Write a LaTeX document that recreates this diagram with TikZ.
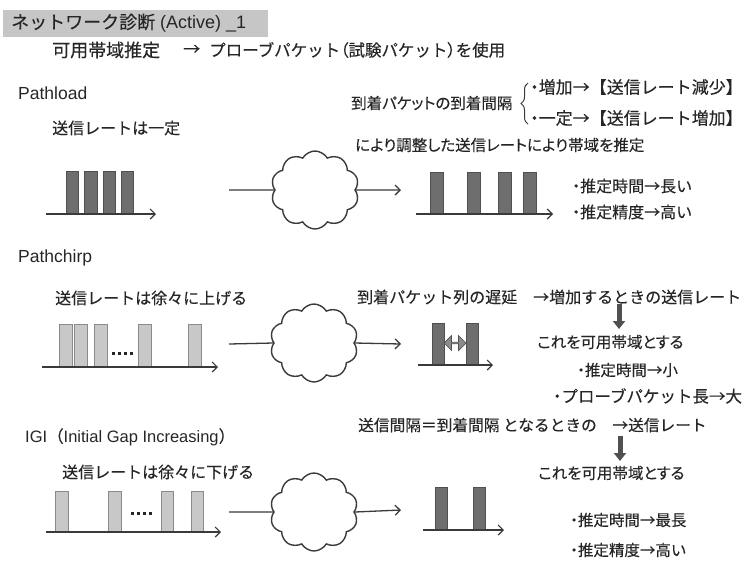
\documentclass[tikz,border=0pt]{standalone}
\usepackage{fontspec}
\setmainfont{Liberation Sans}
\newfontfamily\jp[FakeBold=0.25]{Noto Sans CJK JP}
\newfontfamily\jpp[RawFeature=+palt,FakeBold=0.25]{Noto Sans CJK JP}
\newcommand\pdot{{\jpp ・}}
\usetikzlibrary{shapes.symbols,shapes.arrows,arrows.meta,decorations.pathreplacing}
\definecolor{txt}{HTML}{262626}
\definecolor{linec}{HTML}{3A3A3A}
\definecolor{titlebg}{HTML}{C6C6C6}
\definecolor{bardark}{HTML}{6E6E6E}
\definecolor{bardarkline}{HTML}{505050}
\definecolor{barlight}{HTML}{C8C8C8}
\definecolor{barlightline}{HTML}{8A8A8A}
\newcommand\myfs[1]{\fontsize{#1}{#1}\selectfont}
\tikzset{
  lbl/.style={anchor=west, inner sep=0pt, text=txt},
  latl/.style={lbl, font=\myfs{17.5}},
  darkbar/.style={fill=bardark, draw=bardarkline, line width=0.8pt},
  lightbar/.style={fill=barlight, draw=barlightline, line width=0.8pt},
  axisln/.style={draw=linec, line width=1.2pt, -{Straight Barb[length=5pt,width=10pt]}},
  plainln/.style={draw=linec, line width=1.3pt},
  arrln/.style={draw=linec, line width=1.3pt, -{Straight Barb[length=5pt,width=10pt]}},
  cloudn/.style={cloud, cloud puffs=10, cloud puff arc=120, aspect=1.15, draw=linec, line width=1.4pt, fill=white, minimum width=88pt, minimum height=78pt, inner sep=0pt},
  downarr/.style={draw=bardarkline, line width=5pt, -{Triangle[width=12pt,length=8pt]}},
  dblarr/.style={double arrow, double arrow head extend=3.5pt, draw=bardarkline, fill=bardark!80, line width=0.7pt, minimum width=15pt, minimum height=22pt, inner sep=0pt},
}
\begin{document}
\begin{tikzpicture}[x=1pt,y=-1pt]
\useasboundingbox (0,0) rectangle (751,566);
% title
\node[fill=titlebg, anchor=north west, minimum width=265pt, minimum height=27pt, inner sep=0pt] (titlebox) at (3,10) {};
\node[lbl, font=\myfs{18}] (title) at (11,23) {{\jp ネットワーク診断} (Active) \_1};
\node[lbl, font=\jp\myfs{18}] (sub1) at (52,50) {可用帯域推定};
\node[lbl, font=\jp\myfs{17}] (sub2) at (183,50) {→};
\node[lbl, font=\jp\myfs{16.5}] (sub3) at (209,50) {プローブパケット{\jpp（}試験パケット{\jpp）}を使用};

% ---------- Pathload ----------
\node[latl] (pl) at (18,93) {Pathload};
\node[lbl, font=\jp\myfs{16}] (pl1) at (52,128) {送信レートは一定};
\draw[darkbar] (66,171) rectangle (78,214);
\draw[darkbar] (84,171) rectangle (97,214);
\draw[darkbar] (103,171) rectangle (115,214);
\draw[darkbar] (121,171) rectangle (133,214);
\coordinate (a1s) at (46,214); \coordinate (a1e) at (156,214);
\draw[axisln] (a1s) -- (a1e);
\node[cloudn] (c1) at (315,190) {};
\coordinate (l1) at (229,190); \coordinate (r1) at (401,190);
\draw[plainln] (l1) -- (c1.west);
\draw[arrln] (c1.east) -- (r1);
\draw[darkbar] (430,172) rectangle (443,214);
\draw[darkbar] (467,172) rectangle (480,214);
\draw[darkbar] (498,172) rectangle (511,214);
\draw[darkbar] (523,172) rectangle (536,214);
\coordinate (b1s) at (416,214); \coordinate (b1e) at (553,214);
\draw[axisln] (b1s) -- (b1e);
\node[lbl, font=\jpp\myfs{15.5}] (pr1) at (351,103) {到着パケットの到着間隔};
\draw[decorate, decoration={brace, amplitude=7pt}, draw=linec, line width=1pt] (528,124) -- (528,83);
\node[lbl, font=\jp\myfs{17}] (pr2) at (530,87) {\pdot 増加→【送信レート減少】};
\node[lbl, font=\jp\myfs{17}] (pr3) at (530,118) {\pdot 一定→【送信レート増加】};
\node[lbl, font=\jpp\myfs{15.5}] (pr4) at (355,145) {により調整した送信レートにより帯域を推定};
\node[lbl, font=\jp\myfs{16}] (pr5) at (572,186) {\pdot 推定時間→長い};
\node[lbl, font=\jp\myfs{16}] (pr6) at (572,212) {\pdot 推定精度→高い};

% ---------- Pathchirp ----------
\node[latl] (pc) at (18,258) {Pathchirp};
\node[lbl, font=\jp\myfs{16}] (pc1) at (55,298) {送信レートは徐々に上げる};
\draw[lightbar] (59,324) rectangle (72,367);
\draw[lightbar] (74,324) rectangle (87,367);
\draw[lightbar] (94,324) rectangle (107,367);
\draw[lightbar] (138,324) rectangle (151,367);
\draw[lightbar] (188,324) rectangle (201,367);
\foreach \i in {0,1,2,3} \fill[txt] (111.5+\i*6,351.5) rectangle ++(3,3);
\coordinate (a2s) at (42,367); \coordinate (a2e) at (218,367);
\draw[axisln] (a2s) -- (a2e);
\node[cloudn] (c2) at (314,343) {};
\coordinate (l2) at (229,344); \coordinate (r2) at (401,344);
\draw[plainln] (l2) -- (c2.west);
\draw[arrln] (c2.east) -- (r2);
\draw[darkbar] (432,323) rectangle (444,365);
\draw[darkbar] (466,323) rectangle (478,365);
\node[dblarr] (gap) at (455,343) {};
\coordinate (b2s) at (418,365); \coordinate (b2e) at (493,365);
\draw[axisln] (b2s) -- (b2e);
\node[lbl, font=\jp\myfs{16}] (cr1) at (357,297) {到着パケット列の遅延　→増加するときの送信レート};
\coordinate (d1s) at (619,304); \coordinate (d1e) at (619,329);
\draw[downarr] (d1s) -- (d1e);
\node[lbl, font=\jpp\myfs{15.5}] (cr2) at (537,342) {これを可用帯域とする};
\node[lbl, font=\jp\myfs{15.5}] (cr3) at (577,370) {\pdot 推定時間→小};
\node[lbl, font=\jp\myfs{16.5}] (cr4) at (553,396) {\pdot プローブパケット長→大};

% ---------- IGI ----------
\node[latl, font=\myfs{16.5}] (ig) at (25,437) {IGI{\jp（}Initial Gap Increasing{\jp）}};
\node[lbl, font=\jp\myfs{16}] (ig1) at (62,472) {送信レートは徐々に下げる};
\draw[lightbar] (55,491) rectangle (68,532);
\draw[lightbar] (108,491) rectangle (121,532);
\draw[lightbar] (161,491) rectangle (173,532);
\draw[lightbar] (191,491) rectangle (203,532);
\foreach \i in {0,1,2,3} \fill[txt] (130.5+\i*6,511.5) rectangle ++(3,3);
\coordinate (a3s) at (46,532); \coordinate (a3e) at (221,532);
\draw[axisln] (a3s) -- (a3e);
\node[cloudn] (c3) at (314,512) {};
\coordinate (l3) at (229,512); \coordinate (r3) at (401,510);
\draw[plainln] (l3) -- (c3.west);
\draw[arrln] (c3.east) -- (r3);
\draw[darkbar] (435,487) rectangle (447,530);
\draw[darkbar] (473,487) rectangle (485,530);
\coordinate (b3s) at (423,530); \coordinate (b3e) at (504,530);
\draw[axisln] (b3s) -- (b3e);
\node[lbl, font=\jp\myfs{15.7}] (ir1) at (358,425) {送信間隔＝到着間隔 となるときの　→送信レート};
\coordinate (d2s) at (620,436); \coordinate (d2e) at (620,461);
\draw[downarr] (d2s) -- (d2e);
\node[lbl, font=\jpp\myfs{15.5}] (ir2) at (538,473) {これを可用帯域とする};
\node[lbl, font=\jp\myfs{15.5}] (ir3) at (570,520) {\pdot 推定時間→最長};
\node[lbl, font=\jp\myfs{15.5}] (ir4) at (570,550) {\pdot 推定精度→高い};
\end{tikzpicture}
\end{document}
